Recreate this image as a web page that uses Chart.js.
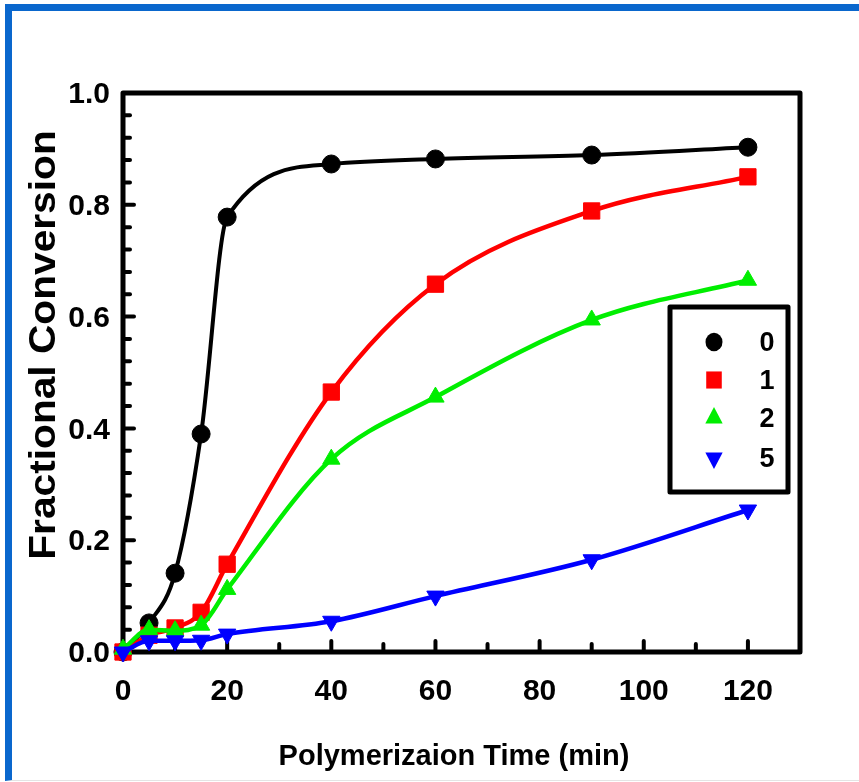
<!DOCTYPE html>
<html>
<head>
<meta charset="utf-8">
<title>Fractional Conversion</title>
<script src="https://cdn.jsdelivr.net/npm/chart.js@4.4.1/dist/chart.umd.min.js"></script>
<style>
  html, body { margin: 0; padding: 0; background: #fff; }
  #wrap { position: relative; width: 859px; height: 782px; overflow: hidden; }
  #frame { position: absolute; left: 5px; top: 4px; right: -20px; bottom: 1px;
           border-top: 7px solid #0a67cd; border-left: 7px solid #0a67cd;
           border-bottom: 1px solid #e4e4e4; }
  #chart { position: absolute; left: 0; top: 0; }
</style>
</head>
<body>
<div id="wrap">
  <div id="frame"></div>
  <canvas id="chart" width="859" height="782"></canvas>
</div>
<script>
// polymerization time (min)
const times = [0, 5, 10, 15, 20, 40, 60, 90, 120];

// fractional conversion for each series
const conv0 = [0.0, 0.052, 0.141, 0.39, 0.778, 0.873, 0.882, 0.889, 0.903];
const conv1 = [0.0, 0.03, 0.043, 0.071, 0.157, 0.465, 0.658, 0.789, 0.85];
const conv2 = [0.005, 0.04, 0.038, 0.048, 0.112, 0.345, 0.456, 0.594, 0.665];
const conv5 = [0.0, 0.02, 0.02, 0.021, 0.032, 0.055, 0.1, 0.165, 0.254];

const seriesNames = ['0', '1', '2', '5'];

const xTicks = [0, 20, 40, 60, 80, 100, 120];
const yTicks = [0, 0.2, 0.4, 0.6, 0.8, 1.0];
const yTickLabels = ['0.0', '0.2', '0.4', '0.6', '0.8', '1.0'];

const FONT = '"Liberation Sans", Arial, Helvetica, sans-serif';

function makeSet(label, data, color, style, rot, r, lw, order) {
  return {
    label: label,
    data: times.map((t, i) => ({ x: t, y: data[i] })),
    borderColor: color,
    backgroundColor: color,
    pointBackgroundColor: color,
    pointBorderColor: color,
    pointBorderWidth: 1,
    pointStyle: style,
    pointRotation: rot,
    pointRadius: r,
    pointHoverRadius: r,
    borderWidth: lw,
    cubicInterpolationMode: 'monotone',
    clip: false,
    order: order
  };
}

const datasets = [
  makeSet(seriesNames[0], conv0, '#000000', 'circle', 0, 9, 4, 3),
  makeSet(seriesNames[1], conv1, '#ff0000', 'rect', 0, 11.5, 4.5, 2),
  makeSet(seriesNames[2], conv2, '#00ee00', 'triangle', 0, 10, 4.5, 1),
  makeSet(seriesNames[3], conv5, '#0000ff', 'triangle', 180, 10, 4.5, 0)
];

// small marker drawer for the legend
function marker(ctx, style, rot, r, x, y, color) {
  ctx.fillStyle = color;
  ctx.beginPath();
  if (style === 'circle') {
    ctx.ellipse(x, y, r, r * 1.1, 0, 0, Math.PI * 2);
  } else if (style === 'rect') {
    const s = r * Math.SQRT1_2;
    ctx.rect(x - s, y - s * 1.1, 2 * s, 2.2 * s);
  } else {
    const sign = rot === 180 ? -1 : 1;
    const a = [-90, 30, 150];
    a.forEach((d, i) => {
      const t = d * Math.PI / 180;
      const px = x + Math.cos(t) * r;
      const py = y + sign * Math.sin(t) * r * 1.1;
      if (i === 0) ctx.moveTo(px, py); else ctx.lineTo(px, py);
    });
    ctx.closePath();
  }
  ctx.fill();
}

// axes frame, inward tick marks, titles and the legend box
const framePlugin = {
  id: 'framePlugin',
  beforeDatasetsDraw(chart) {
    const { ctx, chartArea: a, scales: { x, y } } = chart;
    ctx.save();
    ctx.strokeStyle = '#000';
    ctx.lineCap = 'round';
    ctx.lineWidth = 4;
    const line = (x1, y1, x2, y2) => {
      ctx.beginPath(); ctx.moveTo(x1, y1); ctx.lineTo(x2, y2); ctx.stroke();
    };
    for (let v = 10; v <= 120; v += 10) {
      const px = x.getPixelForValue(v);
      line(px, a.bottom, px, a.bottom - (v % 20 === 0 ? 11 : 8));
    }
    for (let k = 1; k < 25; k++) {
      const v = k * 0.04;
      const py = y.getPixelForValue(v);
      line(a.left, py, a.left + (k % 5 === 0 ? 11 : 7), py);
    }
    ctx.lineWidth = 5;
    ctx.lineJoin = 'round';
    ctx.strokeRect(a.left, a.top, a.right - a.left, a.bottom - a.top);
    ctx.restore();
  },
  afterDraw(chart) {
    const { ctx } = chart;
    ctx.save();
    ctx.fillStyle = '#000';
    ctx.textAlign = 'center';
    ctx.textBaseline = 'middle';
    ctx.font = 'bold 29px ' + FONT;
    ctx.fillText('Polymerizaion Time (min)', 454, 757);
    ctx.translate(45, 345);
    ctx.rotate(-Math.PI / 2);
    ctx.scale(1.13, 1);
    ctx.font = 'bold 36px ' + FONT;
    ctx.fillText('Fractional Conversion', 0, 0);
    ctx.restore();

    // legend
    const bx = 670, by = 307, bw = 118, bh = 185;
    ctx.save();
    ctx.fillStyle = '#fff';
    ctx.fillRect(bx, by, bw, bh);
    ctx.lineWidth = 5;
    ctx.lineJoin = 'round';
    ctx.strokeStyle = '#000';
    ctx.strokeRect(bx, by, bw, bh);
    const rows = [342, 380, 418, 458];
    chart.data.datasets.forEach((ds, i) => {
      const r = ds.pointStyle === 'circle' ? 8.5 : ds.pointStyle === 'rect' ? 11 : 10;
      marker(ctx, ds.pointStyle, ds.pointRotation, r, 714, rows[i], ds.pointBackgroundColor);
      ctx.fillStyle = '#000';
      ctx.font = 'bold 27px ' + FONT;
      ctx.textAlign = 'center';
      ctx.textBaseline = 'middle';
      ctx.fillText(ds.label, 767, rows[i] + 2);
    });
    ctx.restore();
  }
};

new Chart(document.getElementById('chart'), {
  type: 'line',
  data: { datasets: datasets },
  options: {
    responsive: false,
    animation: false,
    events: [],
    layout: { padding: { left: 0, top: 93, right: 59, bottom: 0 } },
    plugins: { legend: { display: false }, tooltip: { enabled: false } },
    scales: {
      x: {
        type: 'linear',
        min: 0,
        max: 130,
        grid: { display: false, drawTicks: false },
        border: { display: false },
        afterFit: s => { s.height = 130; },
        afterBuildTicks: s => { s.ticks = xTicks.map(v => ({ value: v })); },
        ticks: {
          padding: 22,
          color: '#000',
          font: { family: FONT, size: 30, weight: 'bold' },
          callback: v => String(v)
        }
      },
      y: {
        type: 'linear',
        min: 0,
        max: 1,
        grid: { display: false, drawTicks: false },
        border: { display: false },
        afterFit: s => { s.width = 123; },
        afterBuildTicks: s => { s.ticks = yTicks.map(v => ({ value: v })); },
        ticks: {
          padding: 13,
          labelOffset: 2,
          color: '#000',
          font: { family: FONT, size: 30, weight: 'bold' },
          callback: v => yTickLabels[yTicks.indexOf(v)]
        }
      }
    }
  },
  plugins: [framePlugin]
});
</script>
</body>
</html>
